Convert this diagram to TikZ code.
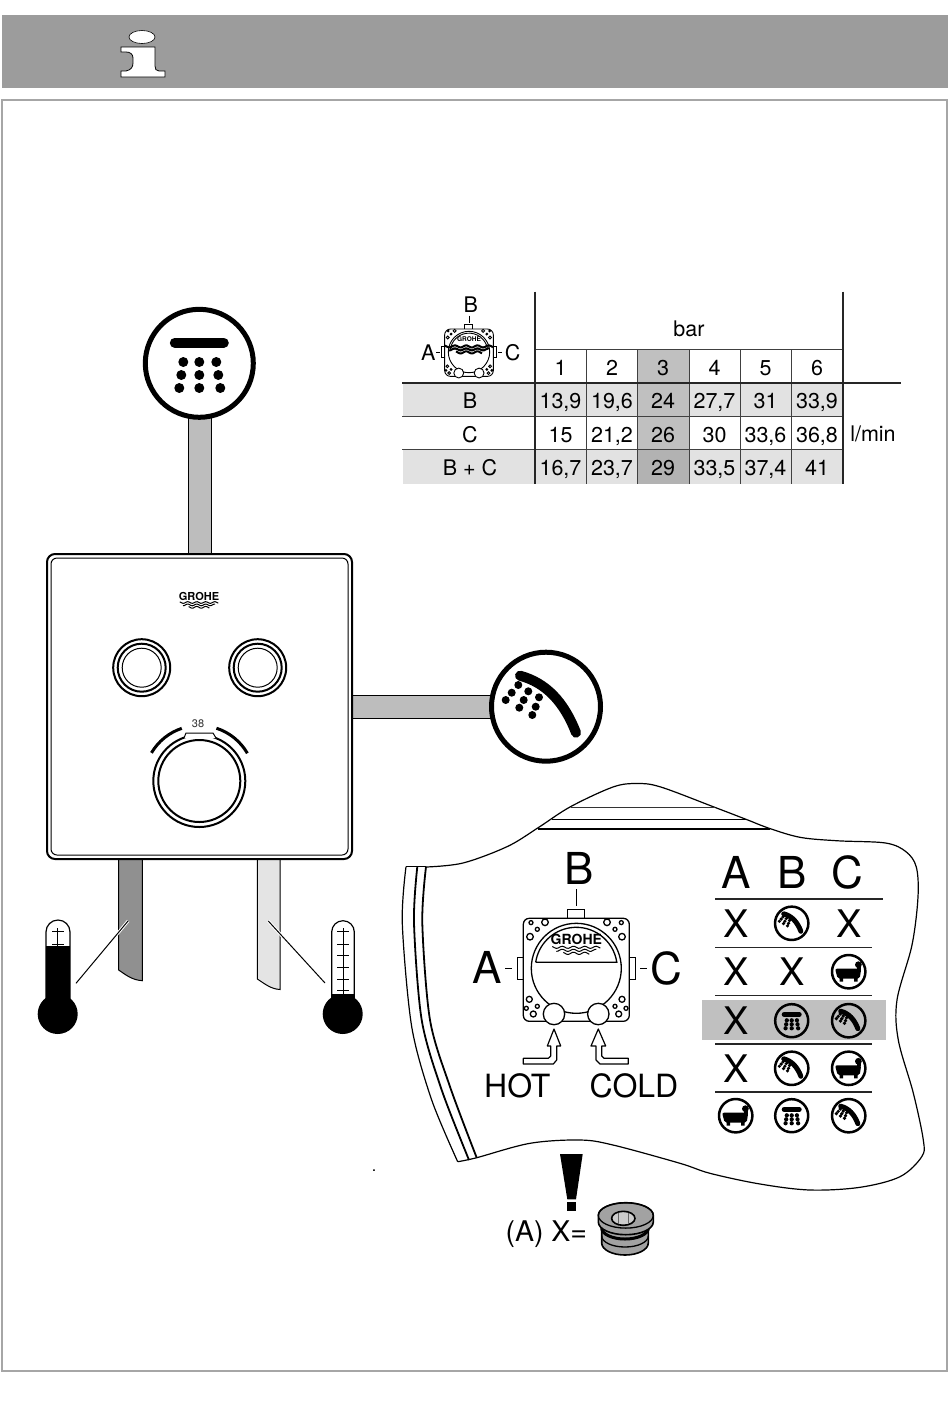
\documentclass[tikz,border=0pt]{standalone}
\usepackage{fontspec}
\setmainfont{TeX Gyre Heros}
\usetikzlibrary{calc}
\definecolor{bandgray}{HTML}{9C9C9C}
\definecolor{framegray}{HTML}{A6A6A6}
\definecolor{pipegray}{HTML}{BDBDBD}
\definecolor{hotgray}{HTML}{909090}
\definecolor{coldgray}{HTML}{E4E4E4}
\definecolor{rowgray}{HTML}{E2E2E2}
\definecolor{colgray}{HTML}{C0C0C0}
\definecolor{pluggray}{HTML}{A2A2A2}
\tikzset{
	tabtext/.style={inner sep=0,text height=15.5pt,text depth=0pt,font=\fontsize{21.5}{24}\selectfont},
	biglabel/.style={inner sep=0,font=\fontsize{44}{48}\selectfont},
	crosslabel/.style={inner sep=0,font=\fontsize{38}{42}\selectfont},
	portlabel/.style={inner sep=0,font=\fontsize{32}{36}\selectfont},
	tabthick/.style={line width=2pt,color=black!85},
	tabthin/.style={line width=1pt,color=black!75},
	rule/.style={line width=1.5pt,color=black!85},
	pipe/.style={line width=1pt,draw=black},
	ringline/.style={line width=2pt},
	hollow/.style={line width=1.2pt,fill=white,line join=round},
	outline/.style={line width=1.2pt},
	outlinethick/.style={line width=1.8pt},
	plugline/.style={line width=1.6pt,draw=black,fill=pluggray},
	pics/grohelogo/.style 2 args={code={
		\node[inner sep=0,font=\fontsize{#1}{#1}\selectfont\bfseries] (logotext) at (0,0) {GROHE};
		\foreach \wy/\ww in {7.5/24,10.5/20,13.5/13}
			\draw[line width=#2pt] plot[smooth,domain=-\ww:\ww,samples=25] (\x,{\wy+1.1*sin(\x*32)});
	}},
	pics/valve/.style 2 args={code={
		\draw[fill=white] (-9,-50) -- (-9,-59) -- (8,-59) -- (8,-50);
		\draw (0,-79) -- (0,-62);
		\draw[fill=white] (-59,-11) rectangle (-50,11);
		\draw[fill=white] (59,-11) rectangle (50,11);
		\draw (-71,0) -- (-64,0) (64,0) -- (71,0);
		\draw[fill=white,rounded corners=6] (-53,-50) -- (53,-50) -- (53,53) -- (-53,53) -- cycle;
		\foreach \hx/\hy/\hr in {-31.3/-46/3.3,-45.3/-45.7/2,-39/-39/2,-46.3/-31.6/3.3,30.7/-46/3.3,45/-45.7/2,38.7/-39/2,45.7/-31.6/3.3,-47/31/3,-50/40/2,-39/38/2,-43/45.7/3,45.7/31/3,49.7/40/2,38.7/38/2,42.4/45.7/3}
			\draw (\hx,\hy) circle[radius=\hr];
		\draw[fill=white] (0,0) circle[radius=45];
		\draw (-40.5,-6) -- (40.5,-6) arc[start angle=-8.4,end angle=-171.6,radius=41];
		\pic at (0,-28.5) {grohelogo={#1}{#2}};
		\draw[fill=white] (-22.3,45.7) circle[radius=10.7];
		\draw[fill=white] (22,45.7) circle[radius=10.7];
	}},
	pics/handicon/.style={code={
		\draw[line width=#1*5pt] (0,0) circle[radius=54.5];
		\draw[line width=#1*10pt,line cap=round] (-26,-31) .. controls (0,-24) and (18,-5) .. (30,26);
		\foreach \dx/\dy in {-27.7/-21.7,-34.3/-14,-40.3/-6.7,-17.7/-15.4,-22.3/-6.7,-26.7/1,-7/-9.4,-10.3/0,-13.7/8.3}
			\fill (\dx,\dy) circle[radius={2+2/#1}];
	}},
	pics/rainicon/.style={code={
		\draw[line width=#1*5pt] (0,0) circle[radius=54];
		\draw[line width=#1*10pt,line cap=round] (-24.5,-20.6) -- (24.5,-20.6);
		\foreach \dx/\dy in {-16/-1.3,0/-1.3,17/-1.3,-18/11.7,0/11.7,19/11.7,-20/24.7,0/24.7,21/24.7}
			\fill (\dx,\dy) circle[radius={3+2/#1}];
	}},
	pics/bathicon/.style={code={
		\draw[line width=2.5pt] (0,0) circle[radius=16.7];
		\fill[rounded corners=2] (-13.7,-3) -- (12.5,-3) -- (11,7) -- (-11,7) -- cycle;
		\fill (-9,6) rectangle (-5.5,10) (5.5,6) rectangle (9,10);
		\fill (9.7,-7) circle[radius=3.4];
		\fill (8,-6) rectangle (12,-2);
	}}
}

\begin{document}
\begin{tikzpicture}[x=1pt,y=-1pt]
\useasboundingbox (0,0) rectangle (950,1409);

%%% header band and frame
\fill[bandgray] (2,15) rectangle (948,88);
\draw[framegray,line width=2.5pt] (2,100) rectangle (947,1371);
\fill[white] (142,37) ellipse[x radius=13,y radius=6.5];
\draw[line width=.6pt] (142,37) ellipse[x radius=13,y radius=6.5];
\draw[line width=.8pt,fill=white] (121,47) -- (155,47) -- (155,66) .. controls (155,69) and (156,71) .. (159,71) -- (165,71) -- (165,77) -- (121,77) -- (121,71) -- (126,71) .. controls (131,70) and (133,67) .. (133,63) -- (133,58) .. controls (133,54) and (130,52) .. (126,52) -- (121,52) -- cycle;

%%% pipes
\draw[pipe,fill=pipegray] (188,416) rectangle (211,556);
\draw[pipe,fill=pipegray] (350,695) rectangle (493,718);
\draw[pipe,fill=hotgray] (118.7,857) -- (118.7,970) .. controls (126,975) and (132,980) .. (142.3,980.7) -- (142.3,857) -- cycle;
\draw[pipe,fill=coldgray] (257.3,857) -- (257.3,979) .. controls (265,984) and (271,989) .. (280,989.5) -- (280,857) -- cycle;

%%% shower icons
\pic at (199.3,363.3) {rainicon=1};
\pic at (546,706.7) {handicon=1};

%%% panel
\draw[line width=2pt,fill=white,rounded corners=8] (47,554) rectangle (352,859);
\draw[line width=1pt,rounded corners=6] (51,558) rectangle (348,855);
\pic[scale=.8] at (199,596.5) {grohelogo={11}{1}};
\foreach \kx in {141.7,257.7} {
	\draw[ringline] (\kx,667.7) circle[radius=28.5];
	\draw[ringline] (\kx,667.7) circle[radius=24];
	\draw[line width=1pt] (\kx,667.7) circle[radius=19.5];
}
\draw[ringline] (199.3,781) circle[radius=46];
\draw[ringline] (199.3,781) circle[radius=41];
\draw[line width=3pt] (199.3,781) ++(210.5:55.5) arc[start angle=210.5,end angle=251.6,radius=55.5];
\draw[line width=3pt] (199.3,781) ++(288:55.5) arc[start angle=288,end angle=330,radius=55.5];
\draw[line width=1pt,fill=white] (184,738) -- (186,733) -- (213,733) -- (216,738);
\node[inner sep=0,text=black!80,font=\fontsize{11}{12}\selectfont] (setpoint) at (198,723.5) {38};

%%% thermometers
\draw[line width=1.2pt,fill=white] (46,1014) -- (46,932) arc[start angle=180,end angle=360,radius=12] -- (70,1014) -- cycle;
\draw[line width=1.2pt,fill=white] (331.7,1014) -- (331.7,932) arc[start angle=180,end angle=360,radius=11.3] -- (354.3,1014) -- cycle;
\draw[line width=1pt] (57.7,928) -- (57.7,946);
\foreach \ty in {931.7,944}
	\draw[line width=1pt] (52,\ty) -- (63.5,\ty);
\draw[line width=1pt] (343,928) -- (343,994);
\foreach \ty in {931.7,944,955.7,967.3,979,990.7}
	\draw[line width=1pt] (337,\ty) -- (349,\ty);
\fill (46,946) rectangle (70,1014);
\fill (57.7,1014) circle[radius=20];
\fill (331.7,994) rectangle (354.3,1014);
\fill (342.7,1014) circle[radius=20];

\coordinate (hottip) at (128.3,920.7);
\coordinate (hotend) at (76,983.3);
\coordinate (coldtip) at (268.3,921);
\coordinate (coldend) at (325,983);
\draw[white,line width=3pt] (hottip) -- ($(hottip)!.25!(hotend)$);
\draw[white,line width=3pt] (coldtip) -- ($(coldtip)!.25!(coldend)$);
\draw[line width=1pt] (hottip) -- (hotend);
\draw[line width=1pt] (coldtip) -- (coldend);

%%% flow table
\fill[rowgray] (403,383) rectangle (843,416);
\fill[rowgray] (403,450) rectangle (843,484);
\fill[colgray] (637.7,349) rectangle (689,484);
\fill[black!30] (637.7,450) rectangle (689,484);
\draw[tabthin] (535,349.3) -- (843,349.3);
\draw[tabthin] (402,416) -- (843,416);
\draw[tabthin] (402,449.7) -- (843,449.7);
\foreach \tx in {586,637.7,689,740,791}
	\draw[tabthin] (\tx,349.3) -- (\tx,484);
\draw[tabthick] (402,382.7) -- (901,382.7);
\draw[tabthick] (535,291.7) -- (535,484);
\draw[tabthick] (842.7,291.7) -- (842.7,484);

\pic[scale=.46,line width=.9pt] at (469,352) {valve={6.5}{2}};
\node[tabtext] (tabB) at (470.7,305) {B};
\node[tabtext] (tabA) at (428.3,352.7) {A};
\node[tabtext] (tabC) at (512.7,352.7) {C};
\node[tabtext] (barlabel) at (689,328.5) {bar};
\node[tabtext] (unitlabel) at (873,434) {l/min};
\node[tabtext] (rowB) at (470,401) {B};
\node[tabtext] (rowC) at (470,435) {C};
\node[tabtext] (rowBC) at (470,468) {B + C};
\foreach \cx/\hd/\vb/\vc/\vd [count=\i] in {560.5/1/{13,9}/15/{16,7},612/2/{19,6}/{21,2}/{23,7},663/3/24/26/29,714.5/4/{27,7}/30/{33,5},765.5/5/31/{33,6}/{37,4},817/6/{33,9}/{36,8}/41} {
	\node[tabtext] (head\i) at (\cx,367.5) {\hd};
	\node[tabtext] (valb\i) at (\cx,401) {\vb};
	\node[tabtext] (valc\i) at (\cx,435) {\vc};
	\node[tabtext] (vald\i) at (\cx,468) {\vd};
}

%%% detail outline
\draw[outline] plot[smooth,tension=.55] coordinates {(426,867) (463,863) (507.4,846.5) (538,827.8) (570.5,806.7) (613,787) (637,783.5) (660.8,787) (715,807.4) (746,819.3) (769.8,828.5) (800.5,837.4) (838,840.8) (885.6,843) (906,851.7) (916.3,867) (918,897) (912,945) (897,1000) (898.3,1040) (913.3,1093) (923.3,1140) (921.7,1156.7) (900,1176.7) (860,1187.3) (810,1190) (760,1184) (710,1173.3) (680,1163.3) (613,1145) (580,1140) (530,1143.3) (476.7,1157.7) (457.7,1161.7)};
\draw[outline] (406,866.7) -- (426,866.7);
\draw[outline] plot[smooth] coordinates {(406,866.7) (402.3,923.3) (411.7,1026.7) (431.7,1100) (457.7,1161.7)};
\draw[outlinethick] plot[smooth] coordinates {(417.3,866.7) (414,923) (421.7,1020) (441.7,1090) (469,1160)};
\draw[outlinethick] plot[smooth] coordinates {(426,866.7) (422.3,923.3) (430,1020) (450,1086.7) (476.7,1157.7)};
\draw[line width=1.3pt,black!80] (570.5,807.4) -- (715,807.4);
\draw[line width=1.5pt] (551.7,819.6) -- (746,819.6);
\draw[line width=2pt] (538,828.5) -- (769.8,828.5);

%%% detail valve
\pic[line width=1.3pt] at (576.3,968.3) {valve={14}{1}};
\node[biglabel] (detA) at (486.7,967.3) {A};
\node[biglabel] (detB) at (579,868.3) {B};
\node[biglabel] (detC) at (666.7,968.3) {C};
\draw[hollow] (554,1029) -- (560.7,1046) -- (556.7,1046) -- (556.7,1060) -- (553.3,1064) -- (523.3,1064) -- (523.3,1058.3) -- (548.3,1058.3) -- (550.7,1056) -- (550.7,1046) -- (547.3,1046) -- cycle;
\draw[hollow] (598.3,1029) -- (605.7,1046) -- (601.7,1046) -- (601.7,1056) -- (604,1058.3) -- (628.3,1058.3) -- (628.3,1064) -- (600,1064) -- (596,1060) -- (596,1046) -- (591,1046) -- cycle;
\node[portlabel] (hotlabel) at (517.3,1086) {HOT};
\node[portlabel] (coldlabel) at (634,1086) {COLD};

%%% outlet table
\fill[colgray] (702.3,1000) rectangle (886,1040);
\draw[rule] (715,899) -- (882.7,899);
\foreach \ry in {947.7,995.7,1044,1092}
	\draw[rule] (715,\ry) -- (871.7,\ry);
\node[biglabel] (colA) at (735.7,872.3) {A};
\node[biglabel] (colB) at (791.7,872.3) {B};
\node[biglabel] (colC) at (847.3,872.3) {C};
\foreach \cx/\cy [count=\i] in {735.7/923.3,848.7/923.3,735.7/971.7,791.7/971.7,735.7/1020.7,735.7/1068.3}
	\node[crosslabel] (cross\i) at (\cx,\cy) {X};
\foreach \cx/\cy in {791.7/923.3,848.7/1020.7,791.7/1068.3,848.7/1115.7}
	\pic[scale=.306] at (\cx,\cy) {handicon=.5};
\foreach \cx/\cy in {791.7/1020.7,791.7/1115.7}
	\pic[scale=.306] at (\cx,\cy) {rainicon=.5};
\foreach \cx/\cy in {848.7/971.7,848.7/1068.3,735.7/1115.7}
	\pic at (\cx,\cy) {bathicon};

%%% plug note
\node[inner sep=0,font=\fontsize{16}{16}\selectfont] (stray) at (374,1171) {.};
\fill (560,1154) -- (582.7,1154) -- (576,1199.3) -- (567.3,1199.3) -- cycle;
\fill (567.3,1202.3) rectangle (576,1210.7);
\node[inner sep=0,font=\fontsize{28.5}{32}\selectfont] (plugnote) at (546.3,1234) {(A) X=};
\draw[plugline] (601.7,1226) -- (601.7,1243) arc[start angle=180,end angle=0,x radius=23.3,y radius=12] -- (648.3,1226) -- cycle;
\draw[line width=1.3pt] (601.7,1236) arc[start angle=180,end angle=0,x radius=23.3,y radius=11];
\draw[line width=3pt] (601.7,1228) arc[start angle=180,end angle=0,x radius=23.3,y radius=11];
\draw[plugline] (598.3,1215.4) -- (598.3,1222) arc[start angle=180,end angle=0,x radius=27.5,y radius=12.7] -- (653.3,1215.4) arc[start angle=0,end angle=-180,x radius=27.5,y radius=12.7] -- cycle;
\draw[line width=1.3pt] (625.8,1215.4) ellipse[x radius=27.5,y radius=12.7];
\draw[line width=1.6pt,fill=black!20] (623.3,1218.3) ellipse[x radius=11.7,y radius=7];
\draw[line width=.8pt,black!60] (618,1212.5) -- (618,1224) (628,1212.5) -- (628,1224);
\end{tikzpicture}
\end{document}
